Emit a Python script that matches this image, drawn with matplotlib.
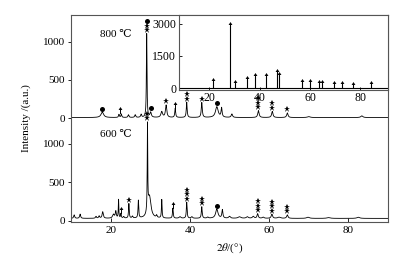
import numpy as np
import matplotlib
matplotlib.use('Agg')
import matplotlib.pyplot as plt
from matplotlib.path import Path
from matplotlib.transforms import offset_copy

plt.rcParams['font.family'] = ['Liberation Serif', 'DejaVu Serif']
plt.rcParams['mathtext.fontset'] = 'stix'

# ---------------- data ----------------
# 800 °C pattern (peak position 2θ, height, FWHM)
pk800_pos = [17.9, 22.1, 22.7, 24.5, 26.2, 27.7, 29.1, 30.1, 32.9, 34.0, 36.3,
             39.2, 43.0, 46.8, 48.0, 50.6, 57.3, 60.8, 64.6, 70.0, 83.4]
pk800_h = [70, 40, 45, 35, 35, 40, 1090, 65, 75, 160, 120,
           200, 195, 140, 120, 45, 90, 80, 60, 12, 22]
pk800_w = [0.8, 0.25, 0.25, 0.3, 0.3, 0.3, 0.18, 0.4, 0.5, 0.4, 0.25,
           0.25, 0.3, 0.8, 0.3, 0.4, 0.4, 0.4, 0.4, 0.8, 0.6]
base800 = 10
offset800 = 1333

# 600 °C pattern
pk600_pos = [10.8, 12.3, 16.3, 17.1, 18.0, 20.7, 21.3, 22.0, 22.6, 23.3, 24.6,
             25.5, 27.0, 29.3, 29.8, 31.6, 32.9, 35.7, 37.5, 39.2, 40.5, 43.0,
             44.5, 46.8, 48.2, 50.0, 52.5, 54.5, 56.0, 57.1, 58.5, 60.7, 62.5,
             64.6, 69.8, 75.0, 82.5]
pk600_h = [45, 55, 25, 30, 85, 50, 90, 240, 60, 20, 190,
           25, 230, 1130, 280, 30, 240, 130, 20, 210, 20, 150,
           15, 120, 110, 25, 20, 20, 25, 60, 15, 55, 15,
           45, 15, 10, 15]
pk600_w = [0.3, 0.3, 0.3, 0.3, 0.35, 0.5, 0.3, 0.15, 0.2, 0.3, 0.2,
           0.3, 0.2, 0.15, 0.9, 0.3, 0.18, 0.22, 0.5, 0.22, 0.4, 0.25,
           0.4, 0.7, 0.3, 0.5, 0.8, 0.6, 0.5, 0.35, 0.5, 0.4, 0.8,
           0.4, 0.8, 1.0, 0.8]
base600 = 30

# phase markers: o = circle, s = star, a = arrow (stacked bottom -> top)
mk800_pos = [17.9, 22.4, 29.1, 30.1, 34.0, 36.3, 39.2, 43.0, 46.8, 57.3, 60.8, 64.6]
mk800_sym = ['o', 'a', 'sso', 'o', 's', 'a', 'ss', 's', 'o', 'sss', 'ss', 's']
mk600_pos = [22.6, 24.6, 29.3, 35.7, 39.2, 43.0, 46.8, 57.1, 60.7, 64.6]
mk600_sym = ['a', 's', 'ss', 'a', 'sss', 'ss', 'o', 'sss', 'sss', 'ss']

# inset: standard reference pattern (stick positions & intensities)
ref_pos = [21.4, 28.2, 30.2, 34.9, 38.3, 42.4, 46.8, 47.8, 56.9, 60.0,
           63.7, 64.6, 69.6, 72.8, 77.2, 84.2]
ref_h = [320, 2930, 240, 440, 560, 550, 730, 600, 300, 300,
         240, 240, 180, 180, 170, 210]

ytick_vals = [0, 500, 1000]
xticks = [20, 40, 60, 80]
inset_yticks = [0, 1500, 3000]

# ---------------- build curves ----------------
x = np.arange(10, 90.001, 0.02)


def profile(pos, h, w, base):
    y = np.full_like(x, float(base))
    for p, a, fw in zip(pos, h, w):
        y += a / (1 + ((x - p) / (fw / 2)) ** 2)
    return y


y800 = profile(pk800_pos, pk800_h, pk800_w, base800) + offset800
y600 = profile(pk600_pos, pk600_h, pk600_w, base600)

arrow = Path([(-0.55, 0.15), (0, 1.0), (0.55, 0.15), (0.14, 0.15), (0.14, -1.0),
              (-0.14, -1.0), (-0.14, 0.15), (-0.55, 0.15)],
             [Path.MOVETO] + [Path.LINETO] * 6 + [Path.CLOSEPOLY])
marker_map = {'o': ('o', 3.6), 's': ('*', 5.0), 'a': (arrow, 5.0)}

fig = plt.figure(figsize=(4.02, 2.57), dpi=100)
W, H = 402, 257
ax = fig.add_axes([71 / W, 1 - 221.7 / H, (388 - 71) / W, (221.7 - 15) / H])
ax.plot(x, y800, color='black', lw=0.6)
ax.plot(x, y600, color='black', lw=0.6)
ax.set_xlim(10, 90)
ax.set_ylim(-13, 2678)


def put_markers(pos_list, sym_list, ycurve):
    for p, syms in zip(pos_list, sym_list):
        sel = (x > p - 0.35) & (x < p + 0.35)
        ytop = ycurve[sel].max()
        off = 2.5
        for s in syms:
            m, ms = marker_map[s]
            tr = offset_copy(ax.transData, fig=fig, y=off, units='points')
            ax.plot([p], [ytop], marker=m, ms=ms, color='black', mew=0,
                    transform=tr, clip_on=False)
            off += 3.2


put_markers(mk800_pos, mk800_sym, y800)
put_markers(mk600_pos, mk600_sym, y600)

yt = ytick_vals + [v + offset800 for v in ytick_vals]
ax.set_yticks(yt)
ax.set_yticklabels([str(v) for v in ytick_vals] * 2)
ax.set_xticks(xticks)
ax.tick_params(axis='x', direction='in', length=3, width=0.6, labelsize=8, pad=3)
ax.tick_params(axis='y', direction='out', length=2.5, width=0.6, labelsize=8, pad=2)
for sp in ax.spines.values():
    sp.set_color('#555555')
    sp.set_linewidth(0.8)

ax.set_ylabel('Intensity /(a.u.)', fontsize=8)
ax.yaxis.set_label_coords(-0.125, 0.5)
ax.set_xlabel(r'$2\theta$/(°)', fontsize=8)
ax.xaxis.set_label_coords(0.5, -0.095)

ax.text(21.4, 2418, '800 ℃', fontsize=8, ha='center', va='center')
ax.text(21.4, 1116, '600 ℃', fontsize=8, ha='center', va='center')

# ---------------- inset ----------------
axi = fig.add_axes([179 / W, 1 - 89.5 / H, (388 - 179) / W, (89.5 - 15) / H])
axi.set_facecolor('white')
axi.axhline(0, color='black', lw=0.8)
axi.vlines(ref_pos, 0, ref_h, color='black', lw=0.8)
axi.plot(ref_pos, ref_h, linestyle='none', marker=arrow, ms=5, color='black', mew=0)
axi.set_xlim(8, 91)
axi.set_ylim(-60, 3400)
axi.set_xticks(xticks)
axi.set_yticks(inset_yticks)
axi.tick_params(axis='both', direction='in', length=2, width=0.6, labelsize=8.5, pad=2)
for sp in axi.spines.values():
    sp.set_color('#555555')
    sp.set_linewidth(0.8)

fig.savefig('out.png', dpi=100)
